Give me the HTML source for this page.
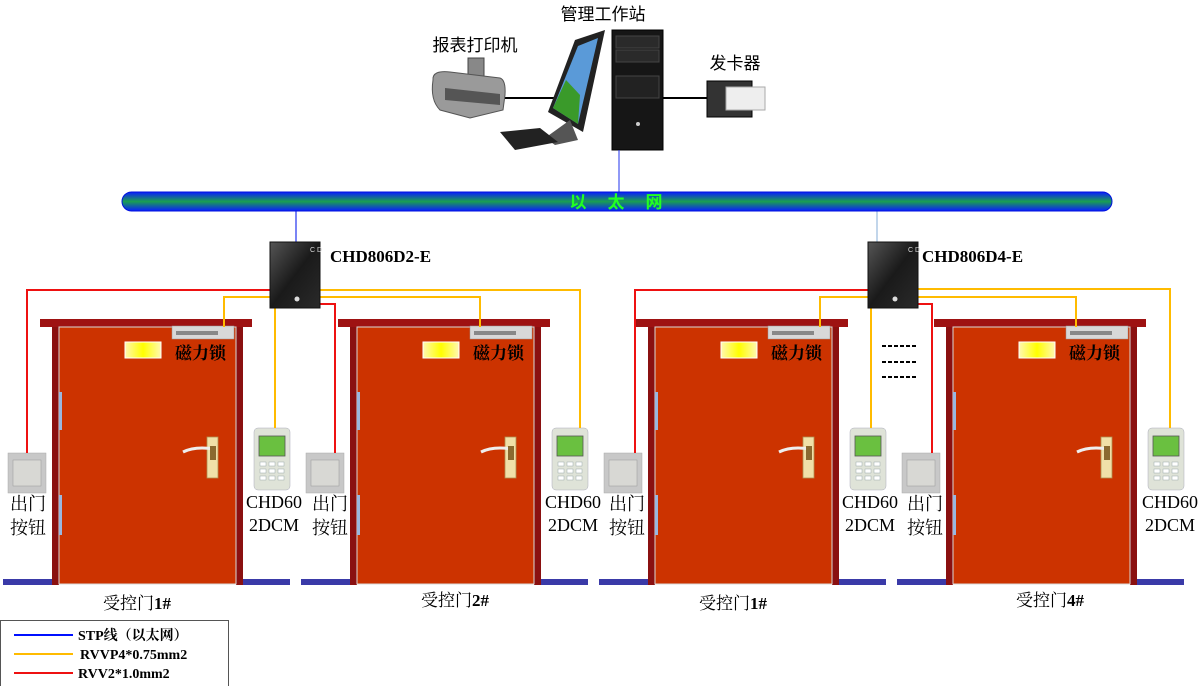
<!DOCTYPE html>
<html><head><meta charset="utf-8"><style>
html,body{margin:0;padding:0;background:#fff;}
svg{display:block}
.s{font-family:"Liberation Serif","Noto Serif CJK SC","Noto Sans CJK SC",serif;}
.h{font-family:"Liberation Sans","Noto Sans CJK SC",sans-serif;}
</style></head><body>
<svg width="1200" height="686" viewBox="0 0 1200 686" xmlns="http://www.w3.org/2000/svg">
<defs>
<linearGradient id="pipe" x1="0" y1="0" x2="0" y2="1">
<stop offset="0" stop-color="#0a1cff"/><stop offset="0.5" stop-color="#1aa050"/><stop offset="1" stop-color="#0a1cff"/>
</linearGradient>
<linearGradient id="box" x1="0" y1="0" x2="1" y2="1">
<stop offset="0" stop-color="#555"/><stop offset="0.5" stop-color="#1a1a1a"/><stop offset="1" stop-color="#2a2a2a"/>
</linearGradient>
<linearGradient id="yel" x1="0" y1="0" x2="1" y2="0">
<stop offset="0" stop-color="#fff8b0"/><stop offset="0.5" stop-color="#ffff00"/><stop offset="1" stop-color="#fff8b0"/>
</linearGradient>
<g id="door">
<rect x="40" y="319" width="212" height="8" fill="#9e1212"/>
<rect x="52" y="327" width="7" height="258" fill="#8a1010"/>
<rect x="236" y="327" width="7" height="258" fill="#8a1010"/>
<rect x="59" y="327" width="177" height="257" fill="#cc3300" stroke="#d8d8d8" stroke-width="1"/>
<rect x="3" y="579" width="49" height="6" fill="#3a3aa8"/>
<rect x="243" y="579" width="47" height="6" fill="#3a3aa8"/>
<rect x="59" y="392" width="3" height="38" fill="#9ab8e0"/>
<rect x="59" y="495" width="3" height="40" fill="#9ab8e0"/>
<rect x="125" y="342" width="36" height="16" fill="url(#yel)" stroke="#fff" stroke-width="1"/>
<rect x="172" y="326" width="62" height="13" fill="#d8d8d8" stroke="#999" stroke-width="0.5"/>
<rect x="176" y="331" width="42" height="4" fill="#888"/>
<rect x="207" y="437" width="11" height="41" fill="#f0e0a8" stroke="#b09050" stroke-width="0.8"/>
<path d="M183 452 Q195 446 214 449" stroke="#eee" stroke-width="3" fill="none"/>
<rect x="210" y="446" width="6" height="14" fill="#8a6a30"/>
<rect x="8" y="453" width="38" height="40" fill="#c8c8c8" stroke="#aaa" stroke-width="0.5"/>
<rect x="13" y="460" width="28" height="26" fill="#d8d8d4" stroke="#999" stroke-width="0.5"/>
<rect x="254" y="428" width="36" height="62" rx="4" fill="#dfe3d8" stroke="#aab" stroke-width="0.5"/>
<rect x="259" y="436" width="26" height="20" fill="#6ac040" stroke="#555" stroke-width="0.8"/>
<g fill="#fff" stroke="#9aa" stroke-width="0.5">
<rect x="260" y="462" width="6" height="4"/><rect x="269" y="462" width="6" height="4"/><rect x="278" y="462" width="6" height="4"/>
<rect x="260" y="469" width="6" height="4"/><rect x="269" y="469" width="6" height="4"/><rect x="278" y="469" width="6" height="4"/>
<rect x="260" y="476" width="6" height="4"/><rect x="269" y="476" width="6" height="4"/><rect x="278" y="476" width="6" height="4"/>
</g>
</g>
<g id="ctrl">
<rect x="0" y="0" width="50" height="66" fill="url(#box)" stroke="#111"/>
<text x="40" y="10" fill="#ddd" font-size="7" class="h">C D</text>
<circle cx="27" cy="57" r="2.5" fill="#ddd"/>
</g>
</defs>

<line x1="500" y1="98" x2="560" y2="98" stroke="#000" stroke-width="2"/>
<line x1="660" y1="98" x2="710" y2="98" stroke="#000" stroke-width="2"/>
<path d="M468 58 h16 v20 h-16z" fill="#888" stroke="#444"/>
<path d="M433 80 Q432 70 450 72 L500 78 Q506 80 505 95 L503 110 L470 118 L440 110 Q430 100 433 80z" fill="#9a9a9a" stroke="#555"/>
<path d="M445 88 L500 94 L500 105 L445 100z" fill="#555"/>
<path d="M575 40 L605 30 L583 132 L548 112z" fill="#222"/>
<path d="M578 46 L598 38 L578 124 L553 108z" fill="#5a9ad8"/>
<path d="M553 108 L566 80 L580 95 L578 124z" fill="#3a9a2a"/>
<path d="M570 120 L578 140 L555 145 L545 138z" fill="#555"/>
<path d="M500 132 L540 128 L558 142 L515 150z" fill="#222"/>
<rect x="612" y="30" width="51" height="120" fill="#161616" stroke="#000"/>
<rect x="616" y="36" width="43" height="12" fill="#2a2a2a" stroke="#444"/>
<rect x="616" y="50" width="43" height="12" fill="#2a2a2a" stroke="#444"/>
<rect x="616" y="76" width="43" height="22" fill="#222" stroke="#444"/>
<circle cx="638" cy="124" r="2" fill="#ccc"/>
<rect x="707" y="81" width="45" height="36" fill="#333" stroke="#000"/>
<rect x="726" y="87" width="39" height="23" fill="#eee" stroke="#aaa"/>
<text x="603" y="20" font-size="17" text-anchor="middle" class="h">管理工作站</text>
<text x="475" y="51" font-size="17" text-anchor="middle" class="h">报表打印机</text>
<text x="735" y="69" font-size="17" text-anchor="middle" class="h">发卡器</text>

<line x1="619" y1="150" x2="619" y2="192" stroke="#2233ee" stroke-width="1"/>
<line x1="296" y1="210" x2="296" y2="242" stroke="#2233ee" stroke-width="1.2"/>
<line x1="877" y1="210" x2="877" y2="242" stroke="#99bbdd" stroke-width="1.2"/>
<rect x="122" y="192" width="990" height="19" rx="9.5" fill="url(#pipe)" stroke="#0010e0" stroke-width="1"/>
<text x="617" y="208" font-size="17" font-weight="bold" fill="#22ff22" text-anchor="middle" class="h" letter-spacing="2">以　太　网</text>

<use href="#door"/>
<use href="#door" transform="translate(298,0)"/>
<use href="#door" transform="translate(596,0)"/>
<use href="#door" transform="translate(894,0)"/>

<g fill="none" stroke-width="2">
<polyline points="270,290 27,290 27,453" stroke="#ee1111"/>
<polyline points="320,304 335,304 335,453" stroke="#ee1111"/>
<polyline points="270,297 224,297 224,327" stroke="#ffbb00"/>
<polyline points="275,308 275,428" stroke="#ffbb00"/>
<polyline points="320,297 480,297 480,327" stroke="#ffbb00"/>
<polyline points="320,290 580,290 580,428" stroke="#ffbb00"/>
</g>
<g fill="none" stroke-width="2">
<polyline points="868,290 635,290 635,453" stroke="#ee1111"/>
<polyline points="918,304 932,304 932,453" stroke="#ee1111"/>
<polyline points="868,297 820,297 820,327" stroke="#ffbb00"/>
<polyline points="871,308 871,428" stroke="#ffbb00"/>
<polyline points="918,297 1076,297 1076,327" stroke="#ffbb00"/>
<polyline points="918,289 1170,289 1170,428" stroke="#ffbb00"/>
</g>
<use href="#ctrl" transform="translate(270,242)"/>
<use href="#ctrl" transform="translate(868,242)"/>
<text x="330" y="262" font-size="17" font-weight="bold" class="s">CHD806D2-E</text>
<text x="922" y="262" font-size="17" font-weight="bold" class="s">CHD806D4-E</text>
<g stroke="#000" stroke-width="2" stroke-dasharray="4,2">
<line x1="882" y1="346" x2="918" y2="346"/><line x1="882" y1="362" x2="918" y2="362"/><line x1="882" y1="377" x2="918" y2="377"/>
</g>

<g class="s" font-size="17">
<text x="175" y="359" font-weight="bold">磁力锁</text>
<text x="473" y="359" font-weight="bold">磁力锁</text>
<text x="771" y="359" font-weight="bold">磁力锁</text>
<text x="1069" y="359" font-weight="bold">磁力锁</text>
<g font-size="18">
<text x="10" y="510">出门</text><text x="10" y="534">按钮</text>
<text x="312" y="510">出门</text><text x="312" y="534">按钮</text>
<text x="609" y="510">出门</text><text x="609" y="534">按钮</text>
<text x="907" y="510">出门</text><text x="907" y="534">按钮</text>
<text x="274" y="508" text-anchor="middle">CHD60</text><text x="274" y="531" text-anchor="middle">2DCM</text>
<text x="573" y="508" text-anchor="middle">CHD60</text><text x="573" y="531" text-anchor="middle">2DCM</text>
<text x="870" y="508" text-anchor="middle">CHD60</text><text x="870" y="531" text-anchor="middle">2DCM</text>
<text x="1170" y="508" text-anchor="middle">CHD60</text><text x="1170" y="531" text-anchor="middle">2DCM</text>
</g>
<text x="137" y="609" text-anchor="middle">受控门<tspan font-weight="bold">1#</tspan></text>
<text x="455" y="606" text-anchor="middle">受控门<tspan font-weight="bold">2#</tspan></text>
<text x="733" y="609" text-anchor="middle">受控门<tspan font-weight="bold">1#</tspan></text>
<text x="1050" y="606" text-anchor="middle">受控门<tspan font-weight="bold">4#</tspan></text>
</g>

<rect x="0.5" y="620.5" width="228" height="66" fill="#fff" stroke="#555"/>
<line x1="14" y1="635" x2="73" y2="635" stroke="#0010ff" stroke-width="2"/>
<line x1="14" y1="654" x2="73" y2="654" stroke="#ffbb00" stroke-width="2"/>
<line x1="14" y1="673" x2="73" y2="673" stroke="#ee1111" stroke-width="2"/>
<g class="s" font-size="14" font-weight="bold">
<text x="78" y="640">STP线（以太网）</text>
<text x="80" y="659">RVVP4*0.75mm2</text>
<text x="78" y="678">RVV2*1.0mm2</text>
</g>
</svg>
</body></html>
